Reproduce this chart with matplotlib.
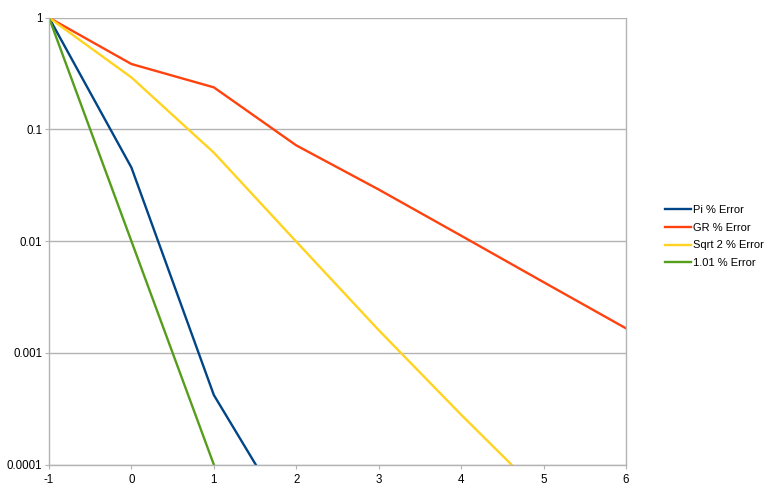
import matplotlib.pyplot as plt
from matplotlib.ticker import FuncFormatter, NullLocator

plt.rcParams['font.family'] = ['Liberation Sans', 'DejaVu Sans']
plt.rcParams['axes.unicode_minus'] = False

# iterations
x = [-1, 0, 1, 2, 3, 4, 5, 6]

# error values (values below 0.0001 are clipped by the axis)
pi_err = [1, 0.0456, 0.00042, 0.000025]
gr_err = [1, 0.385, 0.238, 0.072, 0.029, 0.0112, 0.0043, 0.00166]
sqrt2_err = [1, 0.292, 0.062, 0.0099, 0.0016, 0.00028, 0.000052]
err_101 = [1, 0.01, 0.0001]

labels = ["Pi % Error", "GR % Error", "Sqrt 2 % Error", "1.01 % Error"]
colors = ["#004586", "#ff420e", "#ffd320", "#579d1c"]

fig = plt.figure(figsize=(7.67, 4.90), dpi=100)
ax = fig.add_axes([49 / 767, 25.3 / 490, 577 / 767, 447 / 490])

series = [pi_err, gr_err, sqrt2_err, err_101]
for vals, lab, col in zip(series, labels, colors):
    ax.plot(x[:len(vals)], vals, color=col, lw=1.7, label=lab,
            solid_joinstyle='miter')

ax.set_yscale('log')
ax.set_xlim(-1, 6)
ax.set_ylim(0.0001, 1)
ax.set_xticks(x)
ax.set_yticks([0.0001, 0.001, 0.01, 0.1, 1])
ax.yaxis.set_minor_locator(NullLocator())
ax.yaxis.set_major_formatter(FuncFormatter(lambda v, p: '{:g}'.format(v)))

ax.grid(axis='y', color='#b3b3b3', lw=1)
ax.set_axisbelow(True)
for s in ax.spines.values():
    s.set_color('#b3b3b3')
    s.set_linewidth(1)
ax.spines['top'].set_visible(False)
ax.tick_params(axis='both', direction='out', length=3, color='#b3b3b3',
               labelsize=8.3, labelcolor='black')
ax.tick_params(axis='x', pad=3.5)
ax.tick_params(axis='y', pad=2)

fig.legend(loc='center left', bbox_to_anchor=(665 / 767, 1 - 236.7 / 490),
           frameon=False, fontsize=8, handlelength=2.3, handletextpad=0.25,
           labelspacing=0.68, borderpad=0, borderaxespad=0)

fig.savefig('out.png', dpi=100)
